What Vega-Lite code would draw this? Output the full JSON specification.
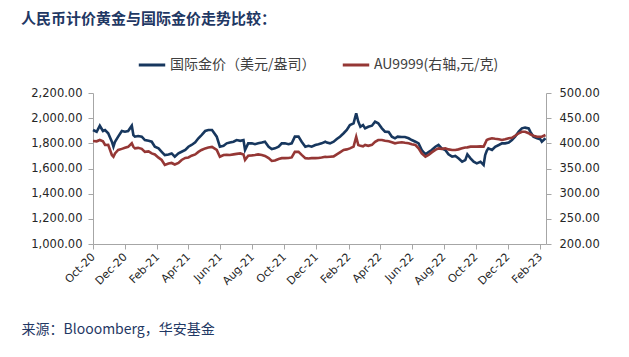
{
  "$schema": "https://vega.github.io/schema/vega-lite/v6.json",
  "width": 453,
  "height": 151,
  "autosize": {"type": "none"},
  "padding": {"left": 93, "top": 93, "right": 83, "bottom": 113},
  "background": "white",
  "config": {
    "view": {"stroke": null},
    "font": "Noto Sans CJK SC",
    "axis": {"grid": false, "domainColor": "#A6A6A6", "tickColor": "#A6A6A6", "tickSize": 5, "labelColor": "#262626", "labelFont": "DejaVu Sans"}
  },
  "title": {
    "text": "人民币计价黄金与国际金价走势比较：",
    "anchor": "start",
    "frame": "group",
    "dx": -72,
    "dy": -19,
    "fontSize": 15,
    "fontWeight": "bold",
    "color": "#1F3864",
    "font": "Noto Sans CJK SC"
  },
  "data": {
    "values": [
      {"d": "2020-10-01", "g": 1906, "a": 404.7},
      {"d": "2020-10-08", "g": 1892, "a": 404},
      {"d": "2020-10-14", "g": 1940, "a": 406.6},
      {"d": "2020-10-20", "g": 1898, "a": 404},
      {"d": "2020-10-24", "g": 1906, "a": 396.7},
      {"d": "2020-10-30", "g": 1880, "a": 397},
      {"d": "2020-11-06", "g": 1813, "a": 376.8},
      {"d": "2020-11-09", "g": 1773, "a": 373.4},
      {"d": "2020-11-12", "g": 1813, "a": 380},
      {"d": "2020-11-18", "g": 1853, "a": 386.8},
      {"d": "2020-11-25", "g": 1898, "a": 389},
      {"d": "2020-12-01", "g": 1892, "a": 391},
      {"d": "2020-12-07", "g": 1898, "a": 393},
      {"d": "2020-12-14", "g": 1940, "a": 400},
      {"d": "2020-12-17", "g": 1866, "a": 393},
      {"d": "2020-12-20", "g": 1853, "a": 390},
      {"d": "2020-12-26", "g": 1858, "a": 391},
      {"d": "2021-01-02", "g": 1853, "a": 389},
      {"d": "2021-01-08", "g": 1826, "a": 383},
      {"d": "2021-01-15", "g": 1820, "a": 384},
      {"d": "2021-01-21", "g": 1813, "a": 380},
      {"d": "2021-01-27", "g": 1773, "a": 378},
      {"d": "2021-02-03", "g": 1760, "a": 371.5},
      {"d": "2021-02-09", "g": 1733, "a": 367},
      {"d": "2021-02-15", "g": 1707, "a": 357},
      {"d": "2021-02-22", "g": 1712, "a": 360},
      {"d": "2021-02-28", "g": 1720, "a": 361},
      {"d": "2021-03-06", "g": 1694, "a": 358},
      {"d": "2021-03-13", "g": 1720, "a": 361},
      {"d": "2021-03-19", "g": 1733, "a": 367},
      {"d": "2021-03-26", "g": 1747, "a": 371},
      {"d": "2021-04-01", "g": 1773, "a": 372},
      {"d": "2021-04-07", "g": 1787, "a": 375.5},
      {"d": "2021-04-14", "g": 1808, "a": 378},
      {"d": "2021-04-20", "g": 1840, "a": 383},
      {"d": "2021-04-26", "g": 1866, "a": 386.8},
      {"d": "2021-05-03", "g": 1898, "a": 390},
      {"d": "2021-05-09", "g": 1906, "a": 391.6},
      {"d": "2021-05-16", "g": 1906, "a": 393},
      {"d": "2021-05-25", "g": 1853, "a": 386.8},
      {"d": "2021-05-31", "g": 1773, "a": 373.4},
      {"d": "2021-06-07", "g": 1780, "a": 376.8},
      {"d": "2021-06-13", "g": 1800, "a": 377},
      {"d": "2021-06-19", "g": 1806, "a": 376.8},
      {"d": "2021-06-26", "g": 1813, "a": 378},
      {"d": "2021-07-02", "g": 1826, "a": 379},
      {"d": "2021-07-09", "g": 1820, "a": 380},
      {"d": "2021-07-15", "g": 1826, "a": 378},
      {"d": "2021-07-18", "g": 1747, "a": 367},
      {"d": "2021-07-24", "g": 1800, "a": 375.5},
      {"d": "2021-07-31", "g": 1800, "a": 376},
      {"d": "2021-08-06", "g": 1793, "a": 376.8},
      {"d": "2021-08-12", "g": 1800, "a": 378},
      {"d": "2021-08-19", "g": 1806, "a": 377},
      {"d": "2021-08-25", "g": 1813, "a": 375},
      {"d": "2021-09-01", "g": 1773, "a": 370.6},
      {"d": "2021-09-07", "g": 1755, "a": 365},
      {"d": "2021-09-13", "g": 1760, "a": 366},
      {"d": "2021-09-20", "g": 1773, "a": 369},
      {"d": "2021-09-26", "g": 1800, "a": 370.6},
      {"d": "2021-10-02", "g": 1800, "a": 370.6},
      {"d": "2021-10-09", "g": 1793, "a": 371},
      {"d": "2021-10-15", "g": 1800, "a": 372},
      {"d": "2021-10-21", "g": 1853, "a": 383},
      {"d": "2021-10-28", "g": 1853, "a": 383},
      {"d": "2021-11-03", "g": 1813, "a": 377},
      {"d": "2021-11-10", "g": 1773, "a": 370.6},
      {"d": "2021-11-16", "g": 1780, "a": 370},
      {"d": "2021-11-22", "g": 1773, "a": 370.6},
      {"d": "2021-11-29", "g": 1787, "a": 370.6},
      {"d": "2021-12-05", "g": 1793, "a": 371},
      {"d": "2021-12-11", "g": 1800, "a": 372},
      {"d": "2021-12-18", "g": 1813, "a": 373.4},
      {"d": "2021-12-21", "g": 1806, "a": 373},
      {"d": "2021-12-27", "g": 1800, "a": 373.4},
      {"d": "2022-01-03", "g": 1813, "a": 374},
      {"d": "2022-01-09", "g": 1834, "a": 378},
      {"d": "2022-01-15", "g": 1853, "a": 382},
      {"d": "2022-01-22", "g": 1880, "a": 386.8},
      {"d": "2022-01-28", "g": 1906, "a": 388},
      {"d": "2022-02-03", "g": 1946, "a": 390},
      {"d": "2022-02-10", "g": 1959, "a": 393.4},
      {"d": "2022-02-15", "g": 2039, "a": 413},
      {"d": "2022-02-19", "g": 1972, "a": 396.7},
      {"d": "2022-02-23", "g": 1932, "a": 395},
      {"d": "2022-02-28", "g": 1946, "a": 394},
      {"d": "2022-03-04", "g": 1919, "a": 396.7},
      {"d": "2022-03-10", "g": 1932, "a": 395},
      {"d": "2022-03-17", "g": 1940, "a": 397},
      {"d": "2022-03-23", "g": 1972, "a": 403},
      {"d": "2022-03-29", "g": 1959, "a": 406.6},
      {"d": "2022-04-05", "g": 1919, "a": 406.6},
      {"d": "2022-04-11", "g": 1893, "a": 405},
      {"d": "2022-04-18", "g": 1890, "a": 404},
      {"d": "2022-04-24", "g": 1853, "a": 402},
      {"d": "2022-04-30", "g": 1840, "a": 400},
      {"d": "2022-05-05", "g": 1853, "a": 401},
      {"d": "2022-05-13", "g": 1850, "a": 402},
      {"d": "2022-05-19", "g": 1850, "a": 401},
      {"d": "2022-05-26", "g": 1840, "a": 400},
      {"d": "2022-06-01", "g": 1826, "a": 398},
      {"d": "2022-06-08", "g": 1813, "a": 396.7},
      {"d": "2022-06-14", "g": 1800, "a": 390},
      {"d": "2022-06-20", "g": 1747, "a": 380},
      {"d": "2022-06-27", "g": 1713, "a": 373.4},
      {"d": "2022-07-03", "g": 1730, "a": 376.8},
      {"d": "2022-07-09", "g": 1747, "a": 382},
      {"d": "2022-07-16", "g": 1773, "a": 387},
      {"d": "2022-07-22", "g": 1787, "a": 390},
      {"d": "2022-07-28", "g": 1760, "a": 389},
      {"d": "2022-08-04", "g": 1747, "a": 390},
      {"d": "2022-08-10", "g": 1713, "a": 388},
      {"d": "2022-08-17", "g": 1694, "a": 386.8},
      {"d": "2022-08-23", "g": 1700, "a": 386.8},
      {"d": "2022-08-29", "g": 1681, "a": 388},
      {"d": "2022-09-05", "g": 1654, "a": 390},
      {"d": "2022-09-11", "g": 1667, "a": 391.6},
      {"d": "2022-09-15", "g": 1713, "a": 392},
      {"d": "2022-09-21", "g": 1681, "a": 393.4},
      {"d": "2022-09-27", "g": 1654, "a": 393.4},
      {"d": "2022-10-03", "g": 1641, "a": 393.4},
      {"d": "2022-10-10", "g": 1654, "a": 394},
      {"d": "2022-10-16", "g": 1628, "a": 393.4},
      {"d": "2022-10-19", "g": 1707, "a": 400},
      {"d": "2022-10-22", "g": 1740, "a": 406.6},
      {"d": "2022-10-25", "g": 1760, "a": 408},
      {"d": "2022-11-01", "g": 1747, "a": 410},
      {"d": "2022-11-07", "g": 1773, "a": 409},
      {"d": "2022-11-14", "g": 1787, "a": 408},
      {"d": "2022-11-20", "g": 1800, "a": 406.6},
      {"d": "2022-11-26", "g": 1800, "a": 408},
      {"d": "2022-12-03", "g": 1806, "a": 410},
      {"d": "2022-12-09", "g": 1826, "a": 411},
      {"d": "2022-12-15", "g": 1853, "a": 415},
      {"d": "2022-12-22", "g": 1893, "a": 420},
      {"d": "2022-12-28", "g": 1919, "a": 423},
      {"d": "2023-01-03", "g": 1925, "a": 423},
      {"d": "2023-01-10", "g": 1919, "a": 420},
      {"d": "2023-01-13", "g": 1893, "a": 418},
      {"d": "2023-01-19", "g": 1853, "a": 415},
      {"d": "2023-01-26", "g": 1840, "a": 413},
      {"d": "2023-02-01", "g": 1833, "a": 413},
      {"d": "2023-02-04", "g": 1813, "a": 413},
      {"d": "2023-02-11", "g": 1840, "a": 416.6}
    ]
  },
  "encoding": {
    "x": {
      "field": "d",
      "type": "temporal",
      "scale": {"type": "utc", "domain": [{"year": 2020, "month": 10, "date": 1, "utc": true}, {"year": 2023, "month": 2, "date": 12, "utc": true}]},
      "axis": {
        "values": [
          {"year": 2020, "month": 10, "date": 1, "utc": true},
          {"year": 2020, "month": 12, "date": 1, "utc": true},
          {"year": 2021, "month": 2, "date": 1, "utc": true},
          {"year": 2021, "month": 4, "date": 1, "utc": true},
          {"year": 2021, "month": 6, "date": 1, "utc": true},
          {"year": 2021, "month": 8, "date": 1, "utc": true},
          {"year": 2021, "month": 10, "date": 1, "utc": true},
          {"year": 2021, "month": 12, "date": 1, "utc": true},
          {"year": 2022, "month": 2, "date": 1, "utc": true},
          {"year": 2022, "month": 4, "date": 1, "utc": true},
          {"year": 2022, "month": 6, "date": 1, "utc": true},
          {"year": 2022, "month": 8, "date": 1, "utc": true},
          {"year": 2022, "month": 10, "date": 1, "utc": true},
          {"year": 2022, "month": 12, "date": 1, "utc": true},
          {"year": 2023, "month": 2, "date": 1, "utc": true}
        ],
        "labelExpr": "utcFormat(datum.value, '%b-%y')",
        "labelAngle": -45,
        "labelAlign": "right",
        "labelBaseline": "middle",
        "labelFontSize": 11,
        "labelPadding": 6,
        "labelOverlap": false,
        "title": "来源：Blooomberg，华安基金",
        "titleFont": "Noto Sans CJK SC",
        "titleFontSize": 14,
        "titleFontWeight": "normal",
        "titleColor": "#1F3864",
        "titleAlign": "left",
        "titleBaseline": "top",
        "titleX": -72,
        "titleY": 78
      }
    }
  },
  "layer": [
    {
      "mark": {"type": "line", "strokeWidth": 2.6},
      "encoding": {
        "y": {
          "field": "g",
          "type": "quantitative",
          "scale": {"domain": [1000, 2200], "nice": false, "zero": false},
          "axis": {"orient": "left", "values": [1000, 1200, 1400, 1600, 1800, 2000, 2200], "format": ",.2f", "labelFontSize": 11.5, "labelPadding": 6, "title": null}
        },
        "color": {
          "datum": "国际金价（美元/盎司）",
          "type": "nominal",
          "scale": {"domain": ["国际金价（美元/盎司）", "AU9999(右轴,元/克)"], "range": ["#17375E", "#953735"]},
          "legend": {
            "orient": "none",
            "legendX": 44,
            "legendY": -43,
            "direction": "horizontal",
            "title": null,
            "symbolType": "stroke",
            "symbolStrokeWidth": 3,
            "symbolSize": 700,
            "labelFontSize": 14,
            "labelFont": "Noto Sans CJK SC",
            "labelColor": "#404040",
            "labelOffset": 3,
            "columnPadding": 20
          }
        }
      }
    },
    {
      "mark": {"type": "line", "strokeWidth": 2.6},
      "encoding": {
        "y": {
          "field": "a",
          "type": "quantitative",
          "scale": {"domain": [200, 500], "nice": false, "zero": false},
          "axis": {"orient": "right", "values": [200, 250, 300, 350, 400, 450, 500], "format": ".2f", "labelFontSize": 11.5, "labelPadding": 8, "title": null}
        },
        "color": {"datum": "AU9999(右轴,元/克)", "type": "nominal"}
      }
    }
  ],
  "resolve": {"scale": {"y": "independent"}}
}
